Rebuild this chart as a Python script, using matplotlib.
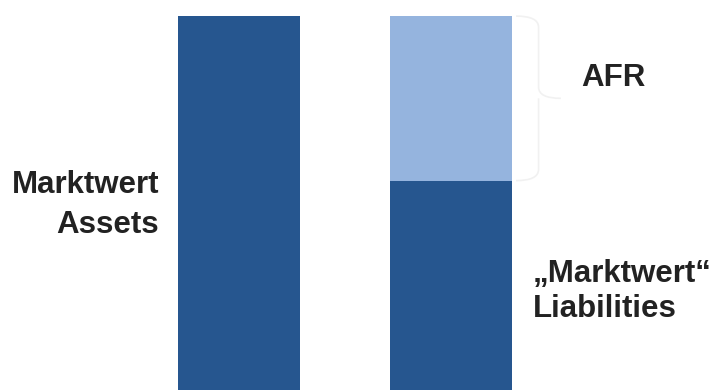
import matplotlib
matplotlib.use("Agg")
import matplotlib.pyplot as plt
from matplotlib.path import Path
from matplotlib.patches import PathPatch

categories = ["Assets", "Liabilities"]
assets = [100, 0]
liabilities = [0, 56]
afr = [0, 44]

dark = "#26568f"
light = "#95b4de"

fig = plt.figure(figsize=(7.13, 3.9), dpi=100)
ax = fig.add_axes([0, 0, 1, 1])
x = [0, 1]
ax.bar(x[0], assets[0], width=0.574, color=dark)
ax.bar(x[1], liabilities[1], width=0.574, color=dark)
ax.bar(x[1], afr[1], bottom=liabilities[1], width=0.574, color=light)
ax.set_xlim(-1.125, 2.231)
ax.set_ylim(0, 104.3)
ax.axis("off")

# brace next to AFR
y0, y1 = liabilities[1], liabilities[1] + afr[1]
ym = (y0 + y1) / 2
xl = 1.304
xm = 1.41
xt = 1.515
c = 3.0
verts = [(xl, y1), (xm, y1), (xm, y1 - c), (xm, ym + c),
         (xm, ym), (xt, ym),
         (xm, ym), (xm, ym - c), (xm, y0 + c),
         (xm, y0), (xl, y0)]
codes = [Path.MOVETO, Path.CURVE3, Path.CURVE3, Path.LINETO,
         Path.CURVE3, Path.CURVE3,
         Path.MOVETO, Path.CURVE3, Path.LINETO,
         Path.CURVE3, Path.CURVE3]
ax.add_patch(PathPatch(Path(verts, codes), fill=False, edgecolor="#f1f1f1", lw=1.2))

tc = "#222222"
fp = dict(family=["Liberation Sans", "DejaVu Sans"], weight="bold", fontsize=22.5, color=tc)
ax.text(-0.376, 52.6, "Marktwert", ha="right", va="baseline", **fp)
ax.text(-0.376, 42.05, "Assets", ha="right", va="baseline", **fp)
ax.text(1.609, 81.2, "AFR", ha="left", va="baseline", **fp)
ax.text(1.3835, 28.96, "\u201eMarktwert\u201c", ha="left", va="baseline", **fp)
ax.text(1.3835, 19.6, "Liabilities", ha="left", va="baseline", **fp)

fig.savefig("out.png", dpi=100)
